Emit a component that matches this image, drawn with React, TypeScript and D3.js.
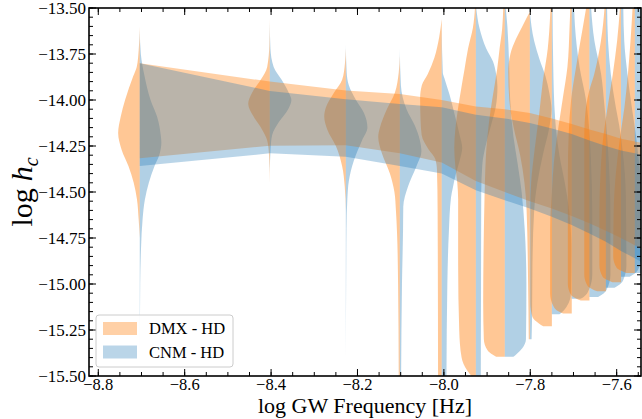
import React from 'react';
import * as d3 from 'd3';

// log10 of the GW frequencies k/T (k = 1..14)
const freqs = [-8.704, -8.403, -8.227, -8.102, -8.005, -7.926, -7.859, -7.801, -7.750, -7.704, -7.663, -7.625, -7.590, -7.558];
const bandFreqs = [-8.704, -8.403, -8.227, -8.102, -8.005, -7.926, -7.859, -7.801, -7.750, -7.704, -7.663, -7.625, -7.590, -7.558, -7.528];

// power-law credible bands (log h_c)
const dmxBandHigh = [-13.80, -13.90, -13.949, -13.967, -14.00, -14.035, -14.05, -14.07, -14.10, -14.13, -14.16, -14.185, -14.21, -14.225, -14.24];
const dmxBandLow = [-14.317, -14.248, -14.246, -14.29, -14.34, -14.44, -14.50, -14.55, -14.59, -14.63, -14.67, -14.71, -14.75, -14.79, -14.83];
const cnmBandHigh = [-13.80, -13.951, -13.996, -14.022, -14.04, -14.08, -14.10, -14.125, -14.155, -14.185, -14.22, -14.25, -14.275, -14.29, -14.31];
const cnmBandLow = [-14.359, -14.29, -14.308, -14.359, -14.40, -14.49, -14.545, -14.59, -14.635, -14.68, -14.725, -14.77, -14.82, -14.86, -14.90];

// half-violin profiles: [log h_c, relative half-width]
const dmxViolins: [number, number][][] = [
  [[-13.60,0],[-13.73,0.05],[-13.82,0.14],[-13.87,0.3],[-14.0,0.68],[-14.09,0.88],[-14.18,1.0],[-14.27,0.84],[-14.36,0.52],[-14.45,0.28],[-14.54,0.13],[-14.65,0.05],[-14.75,0]],
  [[-13.55,0],[-13.70,0.02],[-13.82,0.12],[-13.89,0.42],[-13.96,0.82],[-14.02,1.0],[-14.09,0.75],[-14.16,0.36],[-14.22,0.12],[-14.29,0.04],[-14.45,0]],
  [[-13.72,0],[-13.80,0.04],[-13.89,0.17],[-13.96,0.55],[-14.04,0.92],[-14.09,1.0],[-14.16,0.86],[-14.25,0.46],[-14.36,0.17],[-14.47,0.05],[-14.6,0]],
  [[-13.76,0],[-13.85,0.05],[-13.96,0.23],[-14.05,0.6],[-14.15,0.92],[-14.2,1.0],[-14.29,0.83],[-14.40,0.46],[-14.5,0.25],[-14.6,0.18],[-14.72,0.13],[-15.0,0.08],[-15.5,0.05]],
  [[-13.56,0],[-13.66,0.12],[-13.77,0.34],[-13.86,0.65],[-13.92,0.92],[-13.99,1.0],[-14.11,0.98],[-14.19,0.93],[-14.27,0.6],[-14.32,0.3],[-14.38,0.22],[-14.6,0.19],[-15.5,0.17]],
  [[-13.45,0.02],[-13.61,0.14],[-13.72,0.36],[-13.83,0.52],[-13.94,0.68],[-14.05,0.83],[-14.16,0.95],[-14.26,1.0],[-14.36,0.95],[-14.45,0.86],[-14.54,0.82],[-14.9,0.82],[-15.25,0.77],[-15.4,0.66],[-15.47,0.4],[-15.5,0.2]],
  [[-13.40,0.05],[-13.61,0.12],[-13.72,0.24],[-13.83,0.35],[-13.94,0.5],[-14.05,0.65],[-14.16,0.77],[-14.26,0.85],[-14.37,0.9],[-14.54,0.94],[-14.8,0.98],[-15.1,1.0],[-15.3,0.97],[-15.36,0.8],[-15.385,0.55],[-15.395,0.4]],
  [[-13.52,0],[-13.6,0.35],[-13.67,0.65],[-13.75,0.9],[-13.85,1.0],[-14.0,0.95],[-14.15,0.75],[-14.3,0.45],[-14.45,0.25],[-14.6,0.15],[-15.0,0.08],[-15.3,0.05]],
  [[-13.45,0.05],[-13.54,0.08],[-13.72,0.19],[-13.90,0.42],[-14.09,0.6],[-14.27,0.8],[-14.45,0.96],[-14.6,1.0],[-15.1,1.0],[-15.18,0.9],[-15.215,0.6],[-15.23,0.4]],
  [[-13.45,0.05],[-13.6,0.1],[-13.82,0.2],[-13.98,0.4],[-14.15,0.62],[-14.33,0.82],[-14.5,0.92],[-14.7,1.0],[-15.05,1.0],[-15.12,0.85],[-15.15,0.6],[-15.16,0.4]],
  [[-13.45,0.08],[-13.6,0.3],[-13.82,0.62],[-14.0,0.85],[-14.18,0.96],[-14.4,1.0],[-15.0,1.0],[-15.06,0.85],[-15.08,0.6],[-15.09,0.4]],
  [[-13.45,0.03],[-13.68,0.23],[-13.86,0.54],[-13.95,0.77],[-14.04,0.92],[-14.2,1.0],[-14.95,1.0],[-15.01,0.85],[-15.03,0.6],[-15.04,0.4]],
  [[-13.45,0.02],[-13.68,0.18],[-13.86,0.38],[-14.04,0.62],[-14.2,0.82],[-14.4,0.95],[-14.6,1.0],[-14.9,1.0],[-14.96,0.85],[-14.98,0.6],[-14.99,0.4]],
  [[-13.45,0.08],[-13.68,0.2],[-13.86,0.32],[-14.04,0.48],[-14.2,0.68],[-14.4,0.88],[-14.6,0.98],[-14.85,1.0],[-14.91,0.85],[-14.93,0.6],[-14.94,0.4]],
];
const cnmViolins: [number, number][][] = [
  [[-13.62,0],[-13.75,0.05],[-13.87,0.22],[-14.0,0.5],[-14.09,0.8],[-14.2,0.98],[-14.23,1.0],[-14.3,0.9],[-14.36,0.68],[-14.45,0.42],[-14.54,0.24],[-14.65,0.13],[-14.8,0.06],[-15.0,0.02],[-15.5,0]],
  [[-13.58,0],[-13.72,0.03],[-13.82,0.18],[-13.89,0.55],[-13.96,0.88],[-14.0,1.0],[-14.05,0.85],[-14.12,0.42],[-14.19,0.11],[-14.26,0.04],[-14.4,0]],
  [[-13.70,0],[-13.85,0.04],[-13.92,0.14],[-14.0,0.47],[-14.07,0.84],[-14.15,1.0],[-14.22,0.75],[-14.33,0.37],[-14.44,0.14],[-14.54,0.07],[-14.7,0.03],[-15.0,0.015],[-15.4,0]],
  [[-13.72,0],[-13.92,0.05],[-14.05,0.31],[-14.14,0.7],[-14.22,0.93],[-14.28,1.0],[-14.36,0.77],[-14.47,0.38],[-14.58,0.16],[-14.7,0.15],[-15.0,0.1],[-15.5,0.06]],
  [[-13.60,0],[-13.85,0.05],[-13.88,0.12],[-13.97,0.36],[-14.08,0.6],[-14.19,0.83],[-14.26,0.95],[-14.33,0.83],[-14.40,0.66],[-14.48,0.51],[-14.53,0.43],[-14.72,0.33],[-15.0,0.26],[-15.5,0.22]],
  [[-13.48,0],[-13.61,0.17],[-13.72,0.48],[-13.79,0.79],[-13.86,0.94],[-13.93,1.0],[-14.04,0.92],[-14.14,0.7],[-14.25,0.45],[-14.35,0.3],[-14.5,0.25],[-15.0,0.24],[-15.5,0.23]],
  [[-13.45,0],[-13.6,0.12],[-13.8,0.2],[-14.0,0.25],[-14.2,0.4],[-14.35,0.6],[-14.5,0.78],[-14.7,0.92],[-15.0,1.0],[-15.3,0.98],[-15.35,0.8],[-15.38,0.55],[-15.395,0.4]],
  [[-13.52,0],[-13.68,0.2],[-13.78,0.45],[-13.87,0.72],[-13.96,0.9],[-14.05,1.0],[-14.15,0.9],[-14.3,0.6],[-14.45,0.35],[-14.6,0.2],[-14.9,0.12],[-15.2,0.1],[-15.3,0.08]],
  [[-13.45,0.03],[-13.8,0.06],[-14.1,0.15],[-14.3,0.35],[-14.45,0.6],[-14.6,0.8],[-14.8,0.9],[-15.05,0.88],[-15.12,0.7],[-15.15,0.5],[-15.165,0.35]],
  [[-13.45,0.1],[-13.6,0.15],[-13.82,0.36],[-14.0,0.66],[-14.18,0.82],[-14.36,0.9],[-14.6,0.95],[-14.95,0.95],[-15.03,0.8],[-15.07,0.55],[-15.08,0.4]],
  [[-13.45,0.05],[-13.68,0.23],[-13.86,0.54],[-14.04,0.7],[-14.14,0.78],[-14.35,0.9],[-14.6,0.97],[-14.95,0.97],[-15.03,0.8],[-15.06,0.55],[-15.07,0.4]],
  [[-13.45,0.05],[-13.68,0.1],[-13.86,0.23],[-14.04,0.46],[-14.14,0.62],[-14.3,0.8],[-14.5,0.92],[-14.9,0.95],[-14.98,0.8],[-15.01,0.55],[-15.02,0.4]],
  [[-13.45,0.1],[-13.68,0.15],[-13.86,0.3],[-14.04,0.5],[-14.2,0.7],[-14.4,0.88],[-14.6,0.95],[-14.85,0.95],[-14.92,0.8],[-14.95,0.55],[-14.96,0.4]],
  [[-13.45,0.3],[-13.68,0.5],[-14.0,0.8],[-14.3,1.0],[-14.85,1.0],[-14.9,0.8],[-14.93,0.55],[-14.94,0.4]],
];

const xTicks = [-8.8, -8.6, -8.4, -8.2, -8.0, -7.8, -7.6];
const yTicks = [-13.5, -13.75, -14.0, -14.25, -14.5, -14.75, -15.0, -15.25, -15.5];
const legendLabels = ['DMX - HD', 'CNM - HD'];

const W = 642, H = 419;
const L = 89, R = 641, T = 8, B = 376;
const violinHalf = 0.05;
const ORANGE = '#ff7f0e', BLUE = '#1f77b4';
const FONT = '"Liberation Serif", "Times New Roman", serif';

const fmt = (v: number, d: number) => (v < 0 ? '\u2212' : '') + Math.abs(v).toFixed(d);

export default function App() {
  const x = d3.scaleLinear().domain([-8.8215, -7.5437]).range([L, R]);
  const y = d3.scaleLinear().domain([-13.5, -15.5]).range([T, B]);

  const violinPath = (c: number, prof: [number, number][], side: number) =>
    d3.area<[number, number]>()
      .y(d => y(d[0]))
      .x0(() => x(c))
      .x1(d => x(c + side * d[1] * violinHalf))
      .curve(d3.curveMonotoneY)(prof) || '';

  const band = (lo: number[], hi: number[]) =>
    d3.area<number>()
      .x((_, i) => x(bandFreqs[i]))
      .y0((_, i) => y(lo[i]))
      .y1((_, i) => y(hi[i]))(lo) || '';

  const xMinor = d3.range(-8.8, -7.5, 0.05).filter(v => v >= -8.8215 && v <= -7.5437);
  const yMinor = d3.range(-13.5, -15.5001, -0.05);

  return (
    <svg width={W} height={H} style={{ position: 'absolute', left: 0, top: 0, background: '#fff' }} fontFamily={FONT}>
      <defs>
        <clipPath id="plot"><rect x={L} y={T} width={R - L} height={B - T} /></clipPath>
      </defs>
      <g clipPath="url(#plot)">
        {freqs.map((f, i) => (
          <g key={i}>
            <path d={violinPath(f, dmxViolins[i], -1)} fill={ORANGE} fillOpacity={0.44} />
            <path d={violinPath(f, cnmViolins[i], 1)} fill={BLUE} fillOpacity={0.35} />
          </g>
        ))}
        <path d={band(dmxBandLow, dmxBandHigh)} fill={ORANGE} fillOpacity={0.37} />
        <path d={band(cnmBandLow, cnmBandHigh)} fill={BLUE} fillOpacity={0.31} />
      </g>
      {/* ticks */}
      <g stroke="#000" strokeWidth={1}>
        {xTicks.map(v => (
          <g key={'xt' + v}>
            <line x1={x(v)} x2={x(v)} y1={B} y2={B - 7} />
            <line x1={x(v)} x2={x(v)} y1={T} y2={T + 7} />
          </g>
        ))}
        {xMinor.map((v, i) => (
          <g key={'xm' + i}>
            <line x1={x(v)} x2={x(v)} y1={B} y2={B - 4} />
            <line x1={x(v)} x2={x(v)} y1={T} y2={T + 4} />
          </g>
        ))}
        {yTicks.map(v => (
          <g key={'yt' + v}>
            <line x1={L} x2={L + 7} y1={y(v)} y2={y(v)} />
            <line x1={R} x2={R - 7} y1={y(v)} y2={y(v)} />
          </g>
        ))}
        {yMinor.map((v, i) => (
          <g key={'ym' + i}>
            <line x1={L} x2={L + 4} y1={y(v)} y2={y(v)} />
            <line x1={R} x2={R - 4} y1={y(v)} y2={y(v)} />
          </g>
        ))}
      </g>
      <rect x={L} y={T} width={R - L} height={B - T} fill="none" stroke="#000" strokeWidth={1.6} />
      {xTicks.map(v => (
        <text key={'xl' + v} x={x(v)} y={B + 14} textAnchor="middle" fontSize={16.5}>{fmt(v, 1)}</text>
      ))}
      {yTicks.map(v => (
        <text key={'yl' + v} x={L - 3} y={y(v) + 5.5} textAnchor="end" fontSize={17}>{fmt(v, 2)}</text>
      ))}
      <text x={(L + R) / 2} y={413} textAnchor="middle" fontSize={22}>log GW Frequency [Hz]</text>
      <text transform={`translate(32,${(T + B) / 2}) rotate(-90)`} textAnchor="middle" fontSize={30}>
        log<tspan dx={7} fontStyle="italic">h</tspan><tspan fontStyle="italic" fontSize={20} dy={6}>c</tspan>
      </text>
      {/* legend */}
      <g>
        <rect x={96} y={315} width={137} height={52} rx={3} fill="#fff" fillOpacity={0.8} stroke="#ccc" strokeWidth={1} />
        {legendLabels.map((lab, i) => (
          <g key={lab}>
            <rect x={103} y={322 + i * 23.5} width={34} height={13} fill={i === 0 ? ORANGE : BLUE} fillOpacity={i === 0 ? 0.37 : 0.31} />
            <text x={149} y={334 + i * 23.5} fontSize={16.5}>{lab}</text>
          </g>
        ))}
      </g>
    </svg>
  );
}
